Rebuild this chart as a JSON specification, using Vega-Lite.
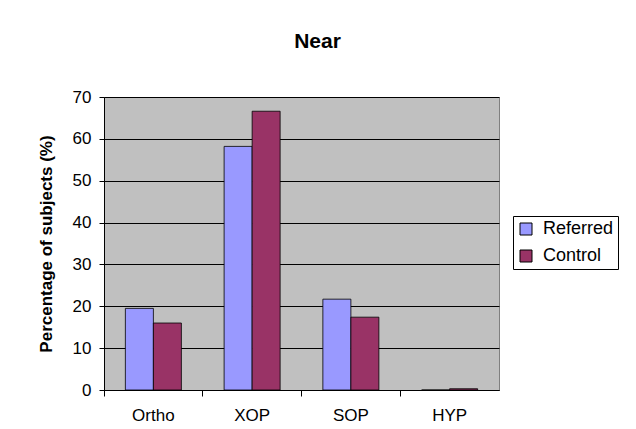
{
  "$schema": "https://vega.github.io/schema/vega-lite/v6.json",
  "autosize": "none",
  "width": 395,
  "height": 293,
  "padding": {"left": 104, "top": 97, "right": 137, "bottom": 39},
  "background": "white",
  "title": {"text": "Near", "fontSize": 21, "font": "Liberation Sans", "fontWeight": "bold", "color": "black", "offset": 36, "dx": 16},
  "data": {"values": [
    {"cat": "Ortho", "group": "Referred", "value": 19.5},
    {"cat": "Ortho", "group": "Control", "value": 16.0},
    {"cat": "XOP", "group": "Referred", "value": 58.2},
    {"cat": "XOP", "group": "Control", "value": 66.6},
    {"cat": "SOP", "group": "Referred", "value": 21.7},
    {"cat": "SOP", "group": "Control", "value": 17.4},
    {"cat": "HYP", "group": "Referred", "value": 0},
    {"cat": "HYP", "group": "Control", "value": 0.3}
  ]},
  "mark": {"type": "bar", "stroke": "black", "strokeWidth": 0.8},
  "encoding": {
    "x": {"field": "cat", "type": "nominal", "sort": ["Ortho", "XOP", "SOP", "HYP"],
      "scale": {"paddingInner": 0, "paddingOuter": 0},
      "axis": {"title": null, "labelAngle": 0, "bandPosition": 0, "labelFontSize": 17, "labelFont": "Liberation Sans", "labelColor": "black", "domainColor": "black", "tickColor": "black", "tickSize": 6, "labelPadding": 11, "grid": false}},
    "xOffset": {"field": "group", "type": "nominal", "sort": ["Referred", "Control"],
      "scale": {"paddingInner": 0, "paddingOuter": 0.763}},
    "y": {"field": "value", "type": "quantitative",
      "scale": {"domain": [0, 70]},
      "axis": {"title": "Percentage of subjects (%)", "titleFontSize": 17, "titleFont": "Liberation Sans", "titleFontWeight": "bold", "titleColor": "black", "titlePadding": 17, "values": [0,10,20,30,40,50,60,70], "labelFontSize": 17, "labelFont": "Liberation Sans", "labelColor": "black", "domainColor": "black", "tickColor": "black", "tickSize": 5, "labelPadding": 8, "grid": true, "gridColor": "black", "gridOpacity": 1, "gridWidth": 1}},
    "color": {"field": "group", "type": "nominal", "sort": ["Referred", "Control"],
      "scale": {"domain": ["Referred", "Control"], "range": ["#9999FF", "#993366"]},
      "legend": {"title": null, "orient": "none", "legendX": 409, "legendY": 119, "symbolType": "square", "symbolSize": 144, "symbolStrokeColor": "black", "symbolStrokeWidth": 1, "symbolOpacity": 1, "labelFontSize": 18, "labelFont": "Liberation Sans", "labelColor": "black", "strokeColor": "black", "fillColor": "white", "padding": 4, "rowPadding": 9, "labelOffset": 8}}
  },
  "config": {
    "view": {"fill": "#C0C0C0", "stroke": "#808080", "strokeWidth": 1}
  }
}
